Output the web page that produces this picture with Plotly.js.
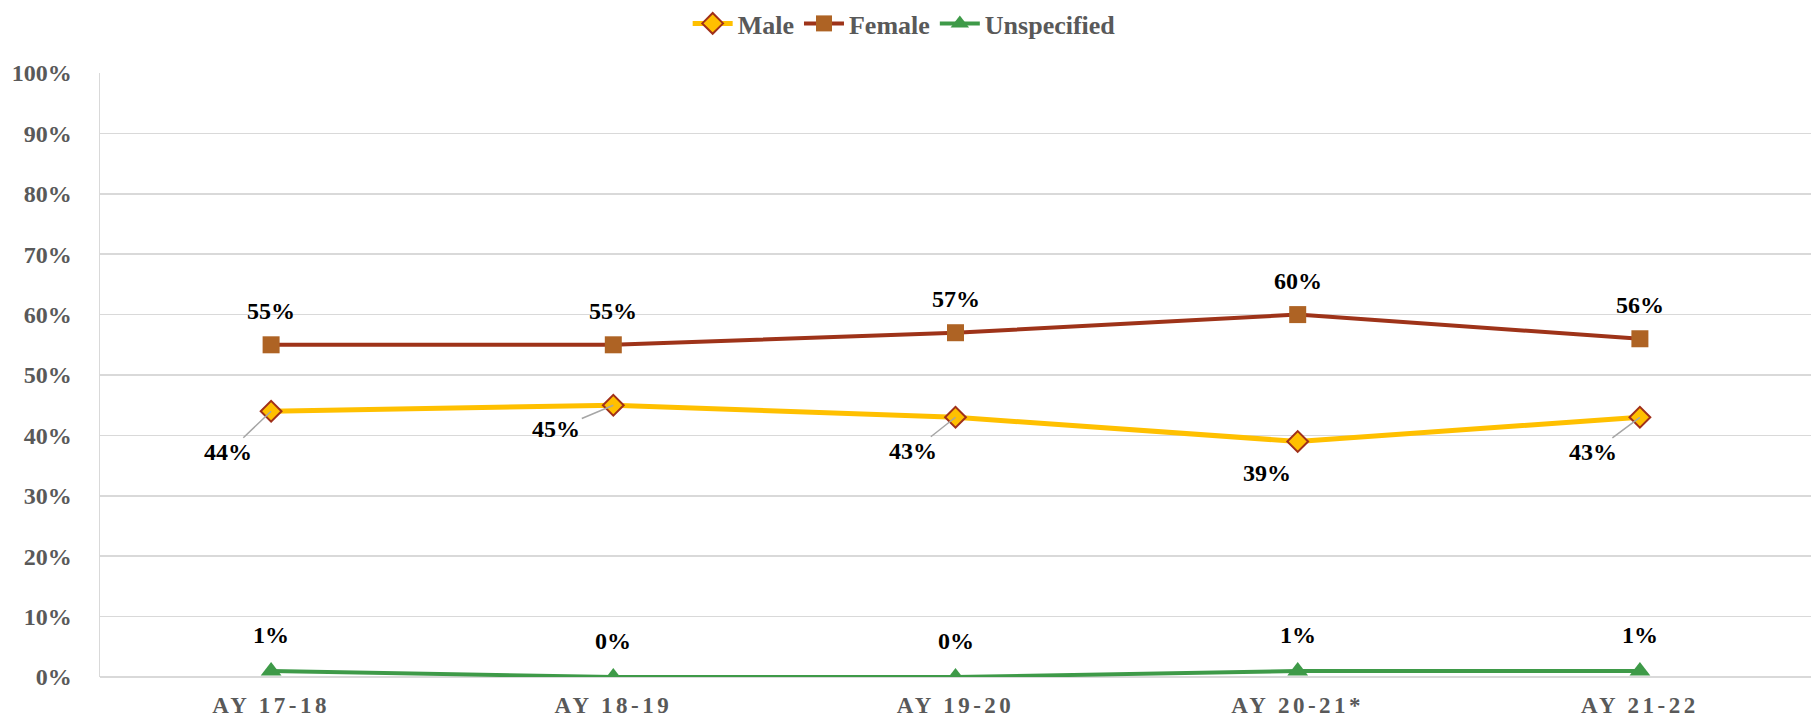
<!DOCTYPE html>
<html>
<head>
<meta charset="utf-8">
<script src="https://cdn.plot.ly/plotly-3.0.1.min.js"></script>
<style>
html,body{margin:0;padding:0;background:#fff;}
#chart{width:1820px;height:723px;}
.xtick text{letter-spacing:3.5px !important;}
</style>
</head>
<body>
<div id="chart"></div>
<script>
const categories = ["AY 17-18", "AY 18-19", "AY 19-20", "AY 20-21*", "AY 21-22"];
const male = [0.44, 0.45, 0.43, 0.39, 0.43];
const female = [0.55, 0.55, 0.57, 0.60, 0.56];
const unspecified = [0.01, 0.00, 0.00, 0.01, 0.01];
const yTicks = [0, 0.1, 0.2, 0.3, 0.4, 0.5, 0.6, 0.7, 0.8, 0.9, 1.0];
const yTickText = ["0%", "10%", "20%", "30%", "40%", "50%", "60%", "70%", "80%", "90%", "100%"];
// label offsets for male labels (pixels): [ax, ay, showLeader]
const maleLabelOffsets = [[-43, 41, true], [-57, 24, true], [-43, 34, true], [-31, 32, false], [-47, 35, true]];

const FONT = "Liberation Serif, Times New Roman, serif";

const traces = [
  {
    x: categories, y: male, name: "Male", type: "scatter", mode: "lines+markers",
    line: {color: "#FFC000", width: 5},
    marker: {symbol: "diamond", size: 16, color: "#FFC000", line: {color: "#A0301A", width: 2}}
  },
  {
    x: categories, y: female, name: "Female", type: "scatter", mode: "lines+markers",
    line: {color: "#9E3319", width: 4},
    marker: {symbol: "square", size: 17, color: "#AE6324", line: {color: "#AE6324", width: 0}}
  },
  {
    x: categories, y: unspecified, name: "Unspecified", type: "scatter", mode: "lines+markers",
    line: {color: "#3E9A48", width: 4},
    marker: {symbol: "triangle-up", size: 18, color: "#3E9A48", line: {width: 0}}
  }
];

const pct = v => Math.round(v * 100) + "%";
const LBL = {family: FONT, size: 24, color: "#000", weight: "bold"};
const annotations = [];
categories.forEach((c, i) => {
  annotations.push({
    x: c, y: female[i], xref: "x", yref: "y", text: pct(female[i]), showarrow: false,
    yshift: 34, font: LBL
  });
  annotations.push({
    x: c, y: unspecified[i], xref: "x", yref: "y", text: pct(unspecified[i]), showarrow: false,
    yshift: 36, font: LBL
  });
  const o = maleLabelOffsets[i];
  annotations.push({
    x: c, y: male[i], xref: "x", yref: "y", text: pct(male[i]),
    showarrow: o[2], arrowhead: 0, arrowwidth: 1.5, arrowcolor: "#A6A6A6",
    ax: o[0], ay: o[1], standoff: 0,
    xshift: o[2] ? 0 : o[0], yshift: o[2] ? 0 : -o[1],
    font: LBL
  });
});

const layout = {
  width: 1820, height: 723,
  margin: {l: 100, r: 9, t: 73, b: 46},
  paper_bgcolor: "#fff", plot_bgcolor: "#fff",
  font: {family: FONT, size: 24, color: "#595959"},
  showlegend: true,
  legend: {
    orientation: "h", x: 0.47, xanchor: "center", y: 1.0, yanchor: "top",
    yref: "container",
    font: {family: FONT, size: 26, color: "#595959", weight: "bold"},
    itemwidth: 40, tracegroupgap: 0
  },
  xaxis: {
    type: "category", range: [-0.5, 4.5], showgrid: false, zeroline: false,
    showline: false, ticks: "", ticklabelstandoff: 12,
    tickfont: {family: FONT, size: 23, color: "#595959", weight: "bold"}
  },
  yaxis: {
    range: [0, 1.0], tickvals: yTicks, ticktext: yTickText,
    showgrid: true, gridcolor: "#D9D9D9", gridwidth: 1.5,
    zeroline: true, zerolinecolor: "#D9D9D9", zerolinewidth: 1.5,
    showline: true, linecolor: "#D9D9D9", linewidth: 1.5,
    ticks: "", ticklabelstandoff: 22,
    tickfont: {family: FONT, size: 24, color: "#595959", weight: "bold"}
  },
  annotations: annotations
};

Plotly.newPlot("chart", traces, layout, {displayModeBar: false, staticPlot: true});
</script>
</body>
</html>
